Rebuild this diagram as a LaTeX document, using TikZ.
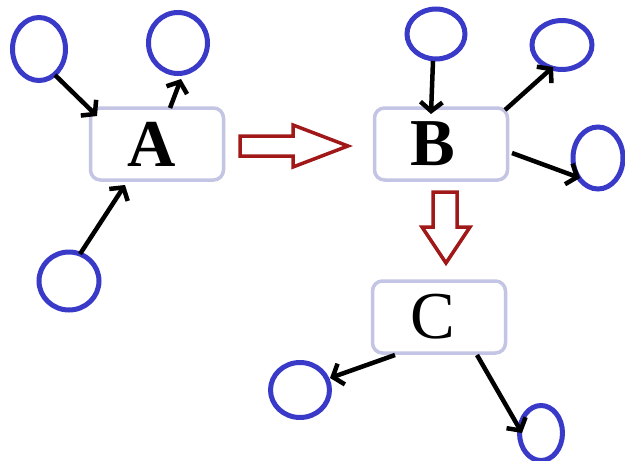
\documentclass[tikz,border=0pt]{standalone}
\usepackage{fontspec}
\setmainfont{Liberation Serif}
\usetikzlibrary{arrows.meta,calc,shapes.geometric}
\definecolor{cblue}{HTML}{3A3AC8}
\definecolor{boxc}{HTML}{C4C4E4}
\definecolor{hred}{HTML}{A01818}
\tikzset{
  box/.style={draw=boxc, line width=3.5pt, rounded corners=10pt, minimum width=133pt,
    minimum height=72pt, inner sep=0pt, font=\fontsize{67}{67}\selectfont},
  circ/.style={draw=cblue, line width=5pt, ellipse, inner sep=0pt},
  arr/.style={line width=4.5pt, -{Straight Barb[length=9pt,width=22pt]}},
  hollow/.style={draw=hred, line width=3.5pt, fill=white, line join=miter}
}
\begin{document}
\begin{tikzpicture}[x=1pt,y=-1pt]
\useasboundingbox[fill=white] (0,0) rectangle (625,461);
% boxes
\node[box] (A) at (157,144) {\bfseries\hspace*{-10pt}A};
\node[box] (B) at (441,144) {\bfseries\hspace*{-16pt}B};
\node[box] (C) at (439,317) {\hspace*{-12pt}C};
% circles
\node[circ, minimum width=53pt, minimum height=63pt] (a1) at (39,49) {};
\node[circ, minimum width=59pt, minimum height=61pt] (a2) at (178,43) {};
\node[circ, minimum width=60pt, minimum height=58pt] (a3) at (69,281) {};
\node[circ, minimum width=58pt, minimum height=50pt] (b1) at (436,34) {};
\node[circ, minimum width=60pt, minimum height=49pt] (b2) at (562,45) {};
\node[circ, minimum width=50pt, minimum height=62pt] (b3) at (598,158) {};
\node[circ, minimum width=59pt, minimum height=55pt] (c1) at (300,390) {};
\node[circ, minimum width=43pt, minimum height=55pt] (c2) at (541,433) {};
% connectors around A
\draw[arr] ($(a1)+(16,26)$) -- ($(A)+(-60,-28)$);
\draw[arr] ($(A)+(13,-36)$) -- ($(a2)+(3,36)$);
\draw[arr] ($(a3)+(11,-27)$) -- ($(A)+(-32,41)$);
% connectors around B
\draw[arr] ($(b1)+(-3,27)$) -- ($(B)+(-10,-30)$);
\draw[arr] ($(B)+(64,-34)$) -- ($(b2)+(-9,22)$);
\draw[arr] ($(B)+(71,9)$) -- ($(b3)+(-18,20)$);
% connectors around C
\draw[arr] ($(C)+(-44,38)$) -- ($(c1)+(30,-12)$);
\draw[arr] ($(C)+(38,38)$) -- ($(c2)+(-19,0)$);
% hollow arrows
\draw[hollow] (240,136) -- (293,136) -- (293,125) -- (348,146) -- (293,167) -- (293,156) -- (240,156) -- cycle;
\draw[hollow] (433,192) -- (457,192) -- (457,227) -- (470,227) -- (446,263) -- (422,227) -- (433,227) -- cycle;
\end{tikzpicture}
\end{document}
